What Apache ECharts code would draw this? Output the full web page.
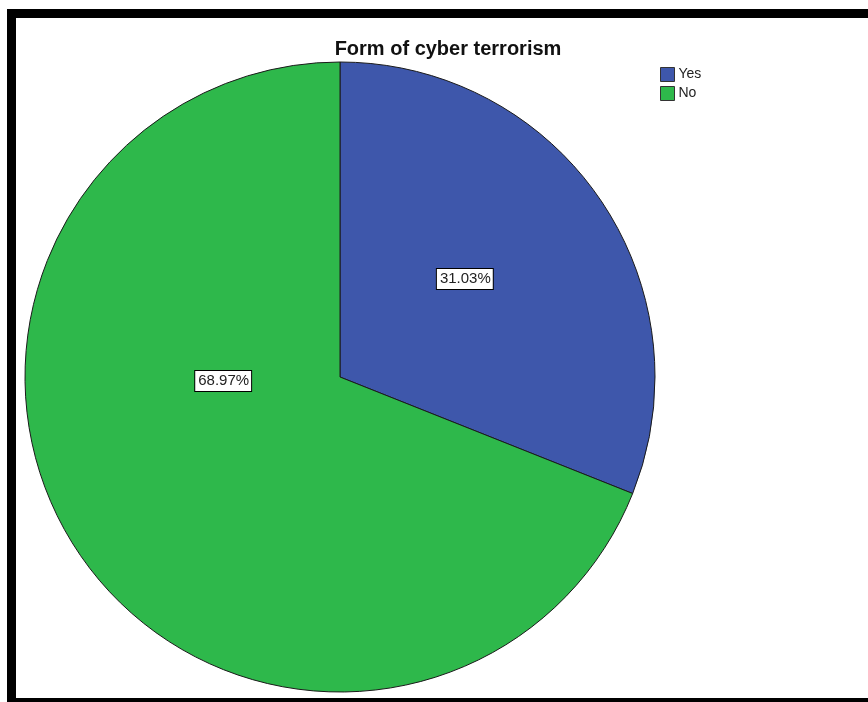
<!DOCTYPE html>
<html>
<head>
<meta charset="utf-8">
<script src="https://cdn.jsdelivr.net/npm/echarts@6/dist/echarts.min.js"></script>
<style>
	html, body { margin: 0; padding: 0; background: #fff; }
	#chart { position: absolute; left: 0; top: 0; width: 868px; height: 702px; }
	#frame {
		position: absolute; left: 7px; top: 9px; width: 861px; height: 693px;
		border-left: 9px solid #000; border-top: 9px solid #000; border-bottom: 4px solid #000;
		box-sizing: border-box; pointer-events: none;
	}
</style>
</head>
<body>
<div id="chart"></div>
<div id="frame"></div>
<script>
var categories = ["Yes", "No"];
var values = [31.03, 68.97];
var colors = ["#3e57ab", "#2eb84b"];
// label nudges so the boxes sit where SPSS put them
var labelOffsets = [[-8, -8], [16, -86]];

window.onload = function() {
	var chart = echarts.init(document.getElementById("chart"));
	var pieData = [];
	for (var i = 0; i < categories.length; i++) {
		pieData.push({
			name: categories[i],
			value: values[i],
			itemStyle: { color: colors[i] },
			label: { offset: labelOffsets[i] }
		});
	}
	chart.setOption({
		animation: false,
		title: {
			text: "Form of cyber terrorism",
			left: 443,
			top: 34,
			textAlign: "center",
			textStyle: { fontFamily: "Liberation Sans", fontSize: 20, fontWeight: "bold", color: "#111" }
		},
		legend: {
			orient: "vertical",
			left: 660,
			top: 67,
			padding: 0,
			itemWidth: 14,
			itemHeight: 14,
			itemGap: 4,
			icon: "rect",
			itemStyle: { borderColor: "#333", borderWidth: 1 },
			textStyle: { fontFamily: "Liberation Sans", fontSize: 14, color: "#222", padding: [0, 0, 0, -1] },
			data: categories
		},
		series: [{
			type: "pie",
			center: [340, 377],
			radius: 315,
			startAngle: 90,
			clockwise: true,
			silent: true,
			itemStyle: { borderColor: "#1a1a1a", borderWidth: 1 },
			label: {
				show: true,
				position: "inside",
				formatter: function(p) { return p.value.toFixed(2) + "%"; },
				fontFamily: "Liberation Sans",
				fontSize: 15,
				color: "#222",
				backgroundColor: "#fff",
				borderColor: "#000",
				borderWidth: 1,
				padding: [3, 2, 2, 3]
			},
			labelLine: { show: false },
			data: pieData
		}]
	});
};
</script>
</body>
</html>
